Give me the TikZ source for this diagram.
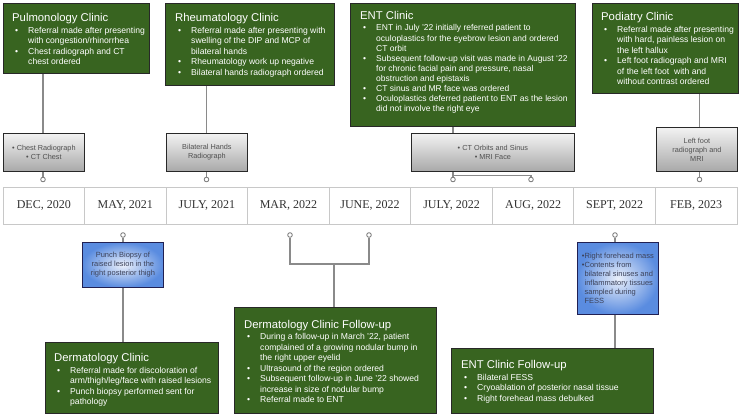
\documentclass[tikz,border=0pt]{standalone}
\usepackage{fontspec}
\setmainfont{Liberation Sans}
\newfontfamily\datefont{Liberation Serif}
\usetikzlibrary{shadows}
\definecolor{cgreen}{RGB}{56,100,32}
\definecolor{cborder}{RGB}{40,40,40}
\definecolor{cline}{RGB}{138,138,138}
\definecolor{ccell}{RGB}{200,200,200}
\definecolor{cgtext}{RGB}{80,80,80}
\definecolor{cbtext}{RGB}{60,66,90}
\definecolor{cblue}{RGB}{90,140,224}
\definecolor{cbluein}{RGB}{235,240,250}
\definecolor{cdate}{RGB}{50,50,50}
\newcommand{\bi}[1]{\makebox[16pt][l]{\hspace{3pt}\textbullet}#1}
\newcommand{\ci}[1]{\hspace{16pt}#1}
\newcommand{\ttl}[1]{{\fontsize{11.3}{12}\selectfont #1}}
\newcommand{\sbul}{\textbullet}
\tikzset{
  greenbox/.style={draw=cborder, line width=0.8pt, fill=cgreen, anchor=north west, inner sep=0pt,
    drop shadow={shadow xshift=1pt, shadow yshift=-1pt, opacity=0.3}},
  greentext/.style={anchor=north west, inner sep=0pt, text=white, align=left,
    font=\fontsize{8.6}{10.5}\selectfont},
  graybox/.style={draw=cborder, line width=0.8pt, top color=white!95!black, bottom color=white!66!black,
    anchor=north west, inner sep=0pt, text=cgtext, align=center, font=\fontsize{7.3}{9}\selectfont,
    drop shadow={shadow xshift=1pt, shadow yshift=-1pt, opacity=0.25}},
  bluebox/.style={draw=cborder!80!blue, line width=0.8pt, inner color=cbluein, outer color=cblue,
    anchor=north west, inner sep=0pt, text=cbtext, font=\fontsize{7.5}{9}\selectfont,
    drop shadow={shadow xshift=1pt, shadow yshift=-1pt, opacity=0.25}},
  cell/.style={draw=ccell, line width=0.8pt, minimum width=81.56pt, minimum height=37pt, inner sep=0pt,
    text=cdate, font=\datefont\fontsize{12}{14}\selectfont},
  dot/.style={circle, draw=black!55, line width=0.8pt, fill=white, inner sep=0pt, minimum size=4.6pt},
  conn/.style={draw=cline, line width=1.1pt}
}
\begin{document}
\begin{tikzpicture}[x=1pt,y=-1pt]
\useasboundingbox[fill=white] (0,0) rectangle (740,415);
% timeline
\node[cell] (d1) at (43.78,205.5) {DEC, 2020};
\node[cell] (d2) at (125.33,205.5) {MAY, 2021};
\node[cell] (d3) at (206.89,205.5) {JULY, 2021};
\node[cell] (d4) at (288.44,205.5) {MAR, 2022};
\node[cell] (d5) at (370,205.5) {JUNE, 2022};
\node[cell] (d6) at (451.56,205.5) {JULY, 2022};
\node[cell] (d7) at (533.11,205.5) {AUG, 2022};
\node[cell] (d8) at (614.67,205.5) {SEPT, 2022};
\node[cell] (d9) at (696.22,205.5) {FEB, 2023};
% green boxes
\node[greenbox, minimum width=146pt, minimum height=70pt] (pul) at (3,3) {};
\node[greenbox, minimum width=169pt, minimum height=82pt] (rheu) at (165,3) {};
\node[greenbox, minimum width=225pt, minimum height=123pt] (ent) at (350,3) {};
\node[greenbox, minimum width=146pt, minimum height=90pt] (pod) at (592,3) {};
\node[greenbox, minimum width=173pt, minimum height=71pt] (derm) at (45,342) {};
\node[greenbox, minimum width=202pt, minimum height=106pt] (dfu) at (234,307) {};
\node[greenbox, minimum width=202pt, minimum height=65pt] (efu) at (451,348) {};
% green texts
\node[greentext] (pult) at ([xshift=9pt,yshift=-10pt]pul.north west)
 {\ttl{Pulmonology Clinic}\\[1.5pt]
  \bi{Referral made after presenting}\\ \ci{with congestion/rhinorrhea}\\
  \bi{Chest radiograph and CT}\\ \ci{chest ordered}};
\node[greentext] (rheut) at ([xshift=10pt,yshift=-9.7pt]rheu.north west)
 {\ttl{Rheumatology Clinic}\\[1.5pt]
  \bi{Referral made after presenting with}\\ \ci{swelling of the DIP and MCP of}\\ \ci{bilateral hands}\\
  \bi{Rheumatology work up negative}\\
  \bi{Bilateral hands radiograph ordered}};
\node[greentext, font=\fontsize{8.5}{10.1}\selectfont] (entt) at ([xshift=10pt,yshift=-8pt]ent.north west)
 {\ttl{ENT Clinic}\\[1.5pt]
  \bi{ENT in July ’22 initially referred patient to}\\ \ci{oculoplastics for the eyebrow lesion and ordered}\\ \ci{CT orbit}\\
  \bi{Subsequent follow-up visit was made in August ‘22}\\ \ci{for chronic facial pain and pressure, nasal}\\ \ci{obstruction and epistaxis}\\
  \bi{CT sinus and MR face was ordered}\\
  \bi{Oculoplastics deferred patient to ENT as the lesion}\\ \ci{did not involve the right eye}};
\node[greentext] (podt) at ([xshift=9pt,yshift=-9pt]pod.north west)
 {\ttl{Podiatry Clinic}\\[1.5pt]
  \bi{Referral made after presenting}\\ \ci{with hard, painless lesion on}\\ \ci{the left hallux}\\
  \bi{Left foot radiograph and MRI}\\ \ci{of the left foot\ \ with and}\\ \ci{without contrast ordered}};
\node[greentext] (dermt) at ([xshift=9pt,yshift=-10.7pt]derm.north west)
 {\ttl{Dermatology Clinic}\\[1.5pt]
  \bi{Referral made for discoloration of}\\ \ci{arm/thigh/leg/face with raised lesions}\\
  \bi{Punch biopsy performed sent for}\\ \ci{pathology}};
\node[greentext] (dfut) at ([xshift=10pt,yshift=-12.7pt]dfu.north west)
 {\ttl{Dermatology Clinic Follow-up}\\[1pt]
  \bi{During a follow-up in March ’22, patient}\\ \ci{complained of a growing nodular bump in}\\ \ci{the right upper eyelid}\\
  \bi{Ultrasound of the region ordered}\\
  \bi{Subsequent follow-up in June ’22 showed}\\ \ci{increase in size of nodular bump}\\
  \bi{Referral made to ENT}};
\node[greentext] (efut) at ([xshift=10pt,yshift=-12.3pt]efu.north west)
 {\ttl{ENT Clinic Follow-up}\\[1pt]
  \bi{Bilateral FESS}\\
  \bi{Cryoablation of posterior nasal tissue}\\
  \bi{Right forehead mass debulked}};
% gray boxes
\node[graybox, minimum width=81pt, minimum height=38pt] (g1) at (3,133) {\sbul\ Chest Radiograph\\ \sbul\ CT Chest};
\node[graybox, minimum width=81pt, minimum height=38pt] (g2) at (166,133) {Bilateral Hands\\ Radiograph};
\node[graybox, minimum width=163pt, minimum height=38pt] (g3) at (411,133) {\sbul\ CT Orbits and Sinus\\ \sbul\ MRI Face};
\node[graybox, minimum width=81pt, minimum height=44pt] (g4) at (656,127) {Left foot\\ radiograph and\\ MRI};
% blue boxes
\node[bluebox, minimum width=81pt, minimum height=45pt, align=center] (b1) at (82,242)
 {Punch Biopsy of\\ raised lesion in the\\ right posterior thigh};
\node[bluebox, minimum width=81pt, minimum height=72pt, align=left] (b2) at (577,242)
 {\sbul Right forehead mass\\ \sbul Contents from\\ \phantom{\sbul}bilateral sinuses and\\ \phantom{\sbul}inflammatory tissues\\ \phantom{\sbul}sampled during\\ \phantom{\sbul}FESS};
% dots
\node[dot] (t1) at (43,179.5) {};
\node[dot] (t2) at (206.5,179.5) {};
\node[dot] (t3) at (453,179.5) {};
\node[dot] (t4) at (531,179.5) {};
\node[dot] (t5) at (699.5,179.5) {};
\node[dot] (u1) at (123,235) {};
\node[dot] (u2) at (290,235) {};
\node[dot] (u3) at (369,235) {};
\node[dot] (u4) at (615,235) {};
\coordinate (j1) at (453,175.5);
\coordinate (j2) at (334,264);
% connectors top
\draw[conn] (t1 |- pul.south) -- (t1 |- g1.north);
\draw[conn] (t1) -- (t1 |- g1.south);
\draw[conn] (t2 |- rheu.south) -- (t2 |- g2.north);
\draw[conn] (t2) -- (t2 |- g2.south);
\draw[conn] (t3 |- ent.south) -- (t3 |- g3.north);
\draw[conn] (t3) -- (t3 |- g3.south);
\draw[conn] (t4) |- (j1);
\draw[conn] (t5 |- pod.south) -- (t5 |- g4.north);
\draw[conn] (t5) -- (t5 |- g4.south);
% connectors bottom
\draw[conn] (u1) -- (u1 |- b1.north);
\draw[conn] (u1 |- b1.south) -- (u1 |- derm.north);
\draw[conn] (u2) |- (j2);
\draw[conn] (u3) |- (j2);
\draw[conn] (j2) -- (j2 |- dfu.north);
\draw[conn] (u4) -- (u4 |- b2.north);
\draw[conn] (u4 |- b2.south) -- (u4 |- efu.north);
\end{tikzpicture}
\end{document}
